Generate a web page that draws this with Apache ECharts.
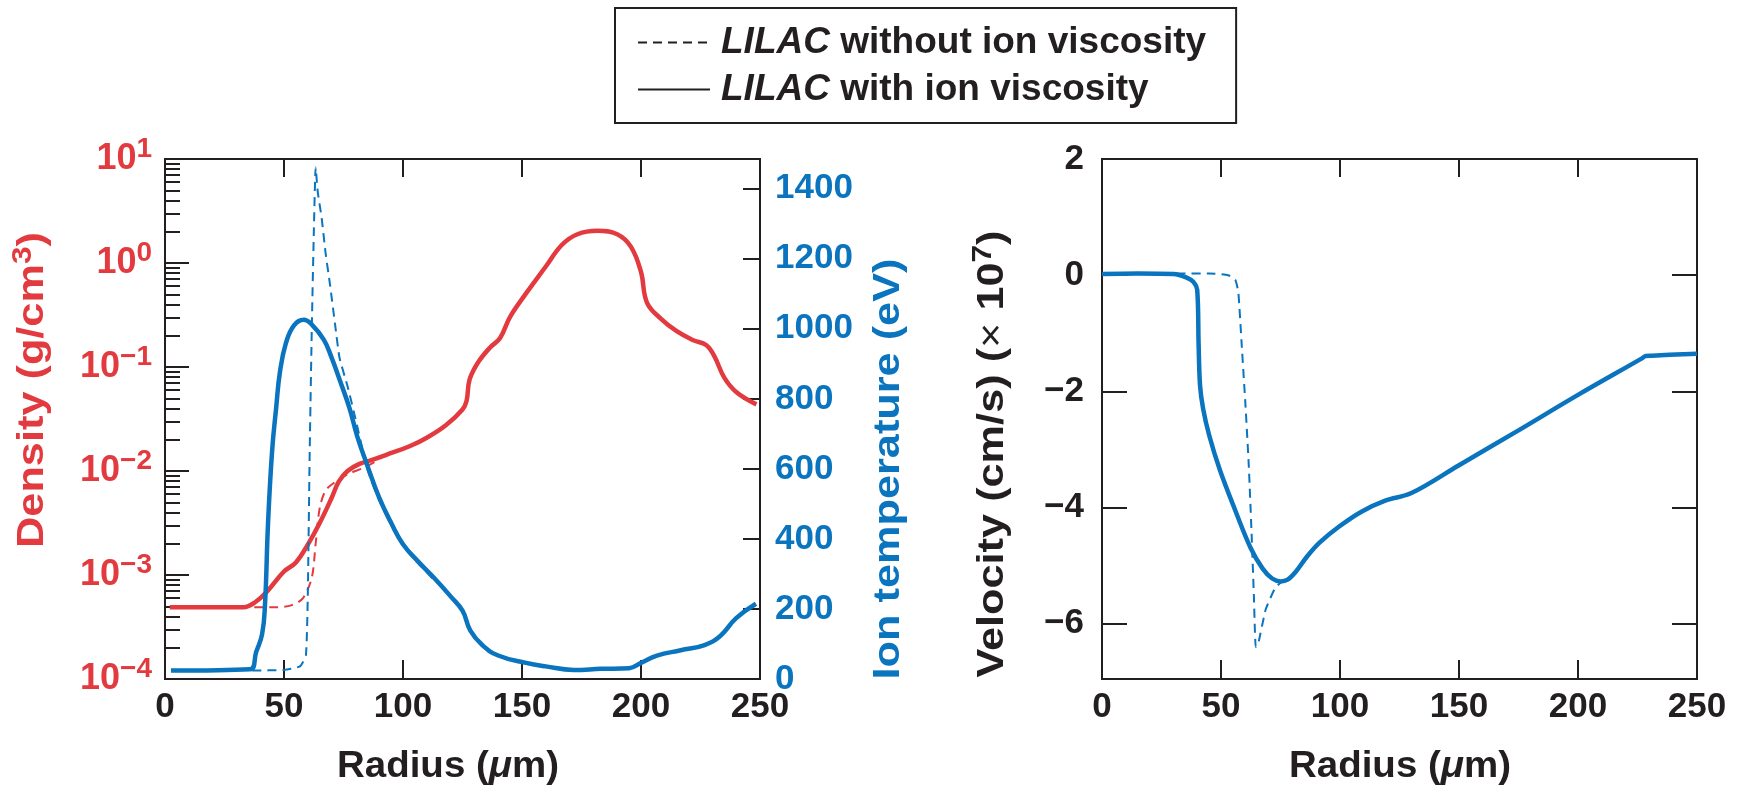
<!DOCTYPE html>
<html>
<head>
<meta charset="UTF-8">
<title>LILAC ion viscosity</title>
<style>
html, body { margin: 0; padding: 0; background: #fff; }
#box { width: 1743px; height: 794px; }
</style>
</head>
<body>
<div id="box"></div>
<script src="https://cdn.jsdelivr.net/npm/echarts@6/dist/echarts.min.js"></script>
<script>
// density (g/cm3) vs radius (um)
var rRhoWith = [2, 33, 38, 43, 50, 55, 60, 65, 70, 73, 76.7, 81.7, 86.7, 93, 103, 110, 118, 125, 126.7, 128,
  131.7, 136.7, 140.8, 145, 151.7, 160, 166.7, 173.3, 181.7, 190, 195.8, 200, 202.5, 208.3, 215, 221.7, 227.5, 230.8, 235, 240, 248.5];
var rhoWith = [4.9e-4, 4.9e-4, 5.5e-4, 7.0e-4, 1.08e-3, 1.32e-3, 1.96e-3, 3.16e-3, 5.5e-3, 7.9e-3, 1.0e-2, 1.17e-2, 1.27e-2, 1.43e-2, 1.74e-2, 2.09e-2, 2.75e-2, 3.9e-2, 4.7e-2, 7.6e-2,
  0.112, 0.155, 0.19, 0.304, 0.51, 0.925, 1.49, 1.89, 2.04, 1.89, 1.43, 0.82, 0.417, 0.292, 0.221, 0.182, 0.162, 0.127, 0.079, 0.0575, 0.0437];
var rRhoWithout = [37.5, 46.7, 53, 58, 61.7, 63.3, 65, 67.5, 71.7, 76.7, 83.3, 88];
var rhoWithout = [4.9e-4, 4.9e-4, 5.1e-4, 6.0e-4, 9.5e-4, 2.0e-3, 4.4e-3, 6.5e-3, 7.9e-3, 9.3e-3, 1.07e-2, 1.22e-2];

// ion temperature (eV) vs radius (um)
var rTWith = [2.5, 35.8, 38.3, 40.8, 42, 43.3, 45, 46.7, 48.3, 50.8, 54.2, 58.3, 61.7, 66.7, 70, 73.3, 77.5, 80.8, 85, 90,
  95, 100, 106.7, 113.3, 120, 125, 128.3, 133.3, 140, 151.7, 160, 171.7, 183.3, 195, 200, 206.7, 216.7, 226.7, 233.3, 240, 248.3];
var tWith = [24, 28, 77, 128, 210, 446, 651, 774, 877, 959, 1010, 1026, 1012, 969, 918, 856, 774, 692, 610, 518,
  446, 385, 333, 287, 236, 195, 138, 97, 67, 46, 36, 26, 29, 31, 46, 67, 82, 97, 123, 174, 215];
var rTWithout = [36.7, 50, 56.7, 59.2, 60, 60.8, 61.7, 62.5, 63.3, 64.2, 65.8, 67.5, 69.2, 71.7, 73.3, 76.7, 80, 85, 90, 95, 100, 106.7, 113];
var tWithout = [24, 26, 36, 67, 241, 651, 1010, 1267, 1461, 1390, 1318, 1215, 1133, 1000, 918, 836, 744, 600, 510, 440, 380, 328, 283];

// velocity (x1e7 cm/s) vs radius (um)
var rVWith = [0, 15, 30, 36, 38.5, 40, 40.6, 41.2, 42.5, 45, 49.5, 56, 62.5, 67.5, 71.5, 75, 78, 81.5, 86, 91.5,
  99.5, 109, 119, 130, 150, 175, 200, 226.5, 228.5, 231, 250];
var vWith = [0.02, 0.03, 0.02, -0.05, -0.12, -0.25, -1.2, -1.9, -2.3, -2.75, -3.35, -4.05, -4.7, -5.05, -5.22, -5.27, -5.24, -5.1, -4.85, -4.6,
  -4.33, -4.07, -3.88, -3.75, -3.27, -2.67, -2.06, -1.44, -1.39, -1.385, -1.35];
var rVWithout = [25, 45, 53, 56, 57.3, 58.7, 60.3, 61.7, 62.9, 63.8, 64.6, 65.6, 68.8, 72.8, 76];
var vWithout = [0.03, 0.03, 0.0, -0.08, -0.3, -1.2, -2.25, -3.3, -4.5, -5.5, -6.4, -6.35, -5.75, -5.38, -5.26];

// axis ticks
var decades = [-4, -3, -2, -1, 0, 1];
var minorMult = [2, 3, 4, 5, 6, 7, 8, 9];
var tempTicks = [0, 200, 400, 600, 800, 1000, 1200, 1400];
var velTicks = [-6, -4, -2, 0];
var velLabels = [-6, -4, -2, 0, 2];

var NAME_WO = 'LILAC without ion viscosity';
var NAME_W = 'LILAC with ion viscosity';
var RED = '#e23a3f', BLUE = '#0a74bf', INK = '#231f20';
var FONT = '"Liberation Sans", Arial, Helvetica, sans-serif';

var minorTicks = [];
decades.slice(0, -1).forEach(function (d) {
  minorMult.forEach(function (m) { minorTicks.push(d + Math.log10(m)); });
});

function pairs(xs, ys, f) {
  return xs.map(function (x, i) { return [x, f ? f(ys[i]) : ys[i]]; });
}
function minus(v) { return v < 0 ? '\u2212' + Math.abs(v) : String(v); }

var tickStyle = { color: INK, width: 2 };
var labelFont = { color: INK, fontSize: 35, fontWeight: 'bold', fontFamily: FONT };

function xAx(grid, pos) {
  return {
    gridIndex: grid, type: 'value', min: 0, max: 250, interval: 50, position: pos,
    axisLine: { show: false, onZero: false },
    axisTick: { inside: true, length: pos === 'top' ? 18 : 19, lineStyle: tickStyle },
    axisLabel: pos === 'top' ? { show: false } : Object.assign({ margin: 11 }, labelFont),
    splitLine: { show: false }
  };
}

// rotated / rich axis titles
function title(x, y, text, color, rot, sx, rich) {
  return {
    type: 'text', x: x, y: y, rotation: rot, scaleX: sx,
    style: {
      text: text, fill: color, fontSize: 37, fontWeight: 'bold', fontFamily: FONT,
      align: 'center', verticalAlign: 'middle', textAlign: 'center', textVerticalAlign: 'middle',
      rich: rich || {}
    }
  };
}
var supRich = { s: { fontSize: 27, fontWeight: 'bold', fontFamily: FONT, padding: [0, 0, 18, 0] } };

var box = document.getElementById('box');
var myechart = echarts.init(box);

var option = {
  animation: false,
  backgroundColor: '#fff',
  grid: [
    { left: 165, top: 159, width: 595, height: 520, show: true, borderColor: INK, borderWidth: 2, outerBoundsMode: 'none' },
    { left: 1102, top: 159, width: 595, height: 520, show: true, borderColor: INK, borderWidth: 2, outerBoundsMode: 'none' }
  ],
  legend: {
    data: [NAME_WO, NAME_W],
    orient: 'vertical', left: 615, top: 8,
    padding: [16, 30, 15, 22],
    borderColor: INK, borderWidth: 2,
    itemWidth: 72, itemHeight: 14, itemGap: 10,
    selectedMode: false,
    lineStyle: { color: INK },
    itemStyle: { opacity: 0 },
    formatter: function (n) { return n.replace('LILAC', '{i|LILAC}'); },
    textStyle: {
      color: INK, fontSize: 37, fontWeight: 'bold', fontFamily: FONT, lineHeight: 30,
      rich: { i: { fontStyle: 'italic', fontWeight: 'bold', fontSize: 37, fontFamily: FONT, color: INK, padding: [0, 0, 0, 6] } }
    }
  },
  xAxis: [xAx(0, 'bottom'), xAx(0, 'top'), xAx(1, 'bottom'), xAx(1, 'top')],
  yAxis: [
    {
      gridIndex: 0, type: 'value', min: -4, max: 1, interval: 1, position: 'left',
      axisLine: { show: false, onZero: false },
      axisTick: { inside: true, length: 24, lineStyle: tickStyle },
      axisLabel: {
        margin: 13, color: RED,
        formatter: function (v) { return '{b|10}{s|' + minus(v) + '}'; },
        rich: {
          b: { fontSize: 36, fontWeight: 'bold', fontFamily: FONT, color: RED },
          s: { fontSize: 28, fontWeight: 'bold', fontFamily: FONT, color: RED, padding: [0, 0, 20, 0] }
        }
      },
      splitLine: { show: false }
    },
    {
      gridIndex: 0, type: 'value', min: -4, max: 1, position: 'left',
      axisLine: { show: false, onZero: false },
      axisTick: { inside: true, length: 15, lineStyle: tickStyle, customValues: minorTicks },
      axisLabel: { show: false },
      splitLine: { show: false }
    },
    {
      gridIndex: 0, type: 'value', min: 0, max: 1485, position: 'right',
      axisLine: { show: false, onZero: false },
      axisTick: { inside: true, length: 17, lineStyle: tickStyle, customValues: tempTicks },
      axisLabel: Object.assign({ margin: 15, customValues: tempTicks, formatter: function (v) { return String(v); } }, labelFont, { color: BLUE }),
      splitLine: { show: false }
    },
    {
      gridIndex: 1, type: 'value', min: -6.95, max: 2, position: 'left',
      axisLine: { show: false, onZero: false },
      axisTick: { inside: true, length: 25, lineStyle: tickStyle, customValues: velTicks },
      axisLabel: Object.assign({ margin: 18, customValues: velLabels, formatter: minus }, labelFont),
      splitLine: { show: false }
    },
    {
      gridIndex: 1, type: 'value', min: -6.95, max: 2, position: 'right',
      axisLine: { show: false, onZero: false },
      axisTick: { inside: true, length: 25, lineStyle: tickStyle, customValues: velTicks },
      axisLabel: { show: false },
      splitLine: { show: false }
    }
  ],
  series: [
    { type: 'line', name: NAME_WO, xAxisIndex: 0, yAxisIndex: 0, symbol: 'none', smooth: 0.3, z: 2,
      data: pairs(rRhoWithout, rhoWithout, Math.log10),
      lineStyle: { color: RED, width: 2, type: [9, 6] }, itemStyle: { color: RED } },
    { type: 'line', name: NAME_W, xAxisIndex: 0, yAxisIndex: 0, symbol: 'none', smooth: 0.4, z: 3,
      data: pairs(rRhoWith, rhoWith, Math.log10),
      lineStyle: { color: RED, width: 4.5 }, itemStyle: { color: RED } },
    { type: 'line', name: NAME_WO, xAxisIndex: 0, yAxisIndex: 2, symbol: 'none', smooth: 0.15, z: 4,
      data: pairs(rTWithout, tWithout),
      lineStyle: { color: BLUE, width: 2, type: [9, 6] }, itemStyle: { color: BLUE } },
    { type: 'line', name: NAME_W, xAxisIndex: 0, yAxisIndex: 2, symbol: 'none', smooth: 0.45, z: 5,
      data: pairs(rTWith, tWith),
      lineStyle: { color: BLUE, width: 4.5 }, itemStyle: { color: BLUE } },
    { type: 'line', name: NAME_WO, xAxisIndex: 2, yAxisIndex: 3, symbol: 'none', smooth: 0.15, z: 2,
      data: pairs(rVWithout, vWithout),
      lineStyle: { color: BLUE, width: 2, type: [9, 6] }, itemStyle: { color: BLUE } },
    { type: 'line', name: NAME_W, xAxisIndex: 2, yAxisIndex: 3, symbol: 'none', smooth: 0.35, z: 3,
      data: pairs(rVWith, vWith),
      lineStyle: { color: BLUE, width: 4.5 }, itemStyle: { color: BLUE } }
  ],
  graphic: [
    title(33, 390, 'Density (g/cm{s|3})', RED, Math.PI / 2, 1.17, supRich),
    title(889, 469, 'Ion temperature (eV)', BLUE, Math.PI / 2, 1.17),
    title(993, 454, 'Velocity (cm/s) ({n|\u00d7} 10{s|7})', INK, Math.PI / 2, 1.17,
      { n: { fontSize: 37, fontWeight: 'normal', fontFamily: FONT }, s: supRich.s }),
    title(448, 767, 'Radius ({i|\u03bc}m)', INK, 0, 1.04,
      { i: { fontSize: 37, fontStyle: 'italic', fontWeight: 'bold', fontFamily: FONT } }),
    title(1400, 767, 'Radius ({i|\u03bc}m)', INK, 0, 1.04,
      { i: { fontSize: 37, fontStyle: 'italic', fontWeight: 'bold', fontFamily: FONT } })
  ]
};

myechart.setOption(option);
</script>
</body>
</html>
